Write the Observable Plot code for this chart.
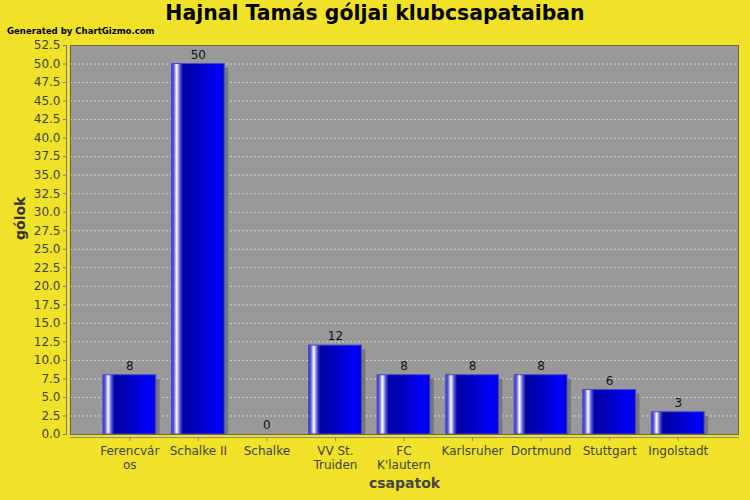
<!DOCTYPE html>
<html>
<head>
<meta charset="utf-8">
<script src="https://cdn.jsdelivr.net/npm/d3@7"></script>
<script src="https://cdn.jsdelivr.net/npm/@observablehq/plot@0.6"></script>
<style>
  html, body { margin: 0; padding: 0; background: #f0e228; }
  #wrap { position: relative; width: 750px; height: 500px; overflow: hidden; background: #f0e228; }
  #chart { position: absolute; left: 0; top: 0; }
  #title { position: absolute; left: 0; top: 1px; width: 750px; text-align: center;
           font-family: "DejaVu Sans"; font-weight: bold; font-size: 20.4px; color: #000; }
  #sub { position: absolute; left: 7px; top: 25px; font-family: "DejaVu Sans Condensed", "DejaVu Sans";
         font-weight: bold; font-size: 9.5px; color: #000; }
</style>
</head>
<body>
<svg width="0" height="0" style="position:absolute">
  <defs>
    <linearGradient id="barGrad" x1="0" x2="1" y1="0" y2="0">
      <stop offset="0" stop-color="#3c3cc8"/>
      <stop offset="0.04" stop-color="#5555d4"/>
      <stop offset="0.10" stop-color="#ffffff"/>
      <stop offset="0.16" stop-color="#5a5ad8"/>
      <stop offset="0.22" stop-color="#0000a4"/>
      <stop offset="0.50" stop-color="#0000c0"/>
      <stop offset="0.88" stop-color="#0000ff"/>
      <stop offset="1" stop-color="#0000c8"/>
    </linearGradient>
  </defs>
</svg>
<div id="wrap">
  <div id="chart"></div>
  <div id="title">Hajnal Tamás góljai klubcsapataiban</div>
  <div id="sub">Generated by ChartGizmo.com</div>
</div>
<script>
const categories = ["Ferencváros", "Schalke II", "Schalke", "VV St. Truiden", "FC K'lautern", "Karlsruher", "Dortmund", "Stuttgart", "Ingolstadt"];
const tickLabels = ["Ferencvár\nos", "Schalke II", "Schalke", "VV St.\nTruiden", "FC\nK'lautern", "Karlsruher", "Dortmund", "Stuttgart", "Ingolstadt"];
const goals = [8, 50, 0, 12, 8, 8, 8, 6, 3];
const yTicks = [0, 2.5, 5, 7.5, 10, 12.5, 15, 17.5, 20, 22.5, 25, 27.5, 30, 32.5, 35, 37.5, 40, 42.5, 45, 47.5, 50, 52.5];
const xTitle = "csapatok";
const yTitle = "gólok";

const data = categories.map((c, i) => ({team: c, goals: goals[i]}));

const chart = Plot.plot({
  width: 750,
  height: 500,
  marginTop: 45,
  marginBottom: 66,
  marginLeft: 70,
  marginRight: 12,
  style: {background: "transparent", fontFamily: "DejaVu Sans", fontSize: "12px", color: "#444"},
  x: {domain: categories, paddingInner: 0.23, paddingOuter: 0.115, insetLeft: 25, insetRight: 26, round: false, label: null},
  y: {domain: [0, 52.5], label: null},
  marks: [
    Plot.frame({fill: "#999999"}),
    Plot.gridY(yTicks, {stroke: "#d6d6d6", strokeOpacity: 1, strokeDasharray: "2,2"}),
    Plot.barY(data, {x: "team", y: "goals", fill: "#777777", dx: 4, dy: 4, clip: true}),
    Plot.barY(data, {x: "team", y: "goals", fill: "url(#barGrad)", stroke: "#4646d6", strokeWidth: 1}),
    Plot.text(data, {x: "team", y: "goals", text: d => String(d.goals), dy: -9, fill: "#111", fontSize: 12}),
    Plot.frame({stroke: "#6b6b40"}),
    Plot.axisY({ticks: yTicks, tickFormat: d => d.toFixed(1), tickSize: 3, dx: -4, tickPadding: 3,
                fill: "#444", stroke: "#7a7aa8", label: null, fontSize: 12}),
    Plot.frame({anchor: "left", dx: -4, stroke: "#7a7aa8"}),
    Plot.axisX({tickFormat: d => tickLabels[categories.indexOf(d)], tickSize: 4, dy: 3, tickPadding: 4,
                fill: "#444", stroke: "#8a8a9a", label: null, fontSize: 12, lineHeight: 1.15}),
    Plot.frame({anchor: "bottom", dy: 3, stroke: "#8a8a9a"}),
    Plot.text([xTitle], {frameAnchor: "bottom", dy: 53, text: d => d, fontSize: 14, fontWeight: "bold", fill: "#444"}),
    Plot.text([yTitle], {frameAnchor: "left", dx: -50, rotate: -90, text: d => d, fontSize: 14, fontWeight: "bold", fill: "#333"})
  ]
});
document.getElementById("chart").appendChild(chart);
</script>
</body>
</html>
